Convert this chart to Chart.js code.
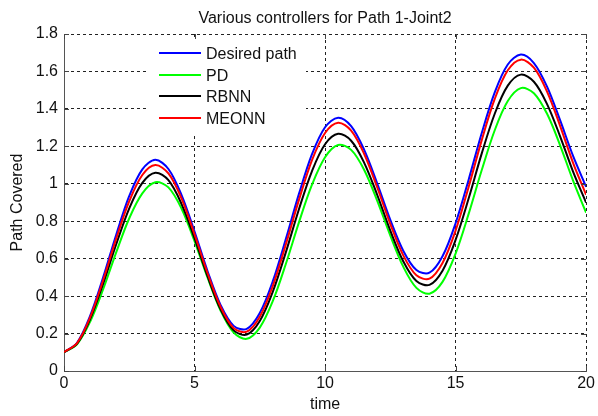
<!DOCTYPE html>
<html>
<head>
<meta charset="utf-8">
<script src="https://cdn.jsdelivr.net/npm/chart.js@4/dist/chart.umd.min.js"></script>
<style>
html,body{margin:0;padding:0;background:#fff;}
canvas{display:block;}
</style>
</head>
<body>
<canvas id="c" width="598" height="416"></canvas>
<script>
// ---- data ----
const time = [0,0.5,1,1.5,2,2.5,3,3.5,4,4.5,5,5.5,6,6.5,7,7.5,8,8.5,9,9.5,10,10.5,11,11.5,12,12.5,13,13.5,14,14.5,15,15.5,16,16.5,17,17.5,18,18.5,19,19.5,20];
const desiredPath = [0.100,0.151,0.294,0.500,0.728,0.935,1.077,1.128,1.079,0.941,0.745,0.533,0.352,0.241,0.225,0.310,0.480,0.706,0.946,1.158,1.302,1.353,1.308,1.181,1.001,0.807,0.641,0.539,0.525,0.613,0.789,1.022,1.270,1.488,1.637,1.690,1.645,1.520,1.341,1.149,0.984];
const pd = [0.100,0.143,0.263,0.437,0.634,0.816,0.949,1.008,0.981,0.868,0.694,0.498,0.322,0.205,0.172,0.232,0.374,0.573,0.794,0.995,1.142,1.207,1.181,1.074,0.909,0.723,0.556,0.444,0.413,0.476,0.627,0.839,1.072,1.286,1.442,1.511,1.484,1.375,1.207,1.017,0.846];
const rbnn = [0.100,0.146,0.277,0.466,0.677,0.869,1.005,1.059,1.019,0.893,0.709,0.506,0.329,0.217,0.194,0.267,0.424,0.635,0.864,1.068,1.211,1.267,1.230,1.112,0.940,0.750,0.585,0.481,0.460,0.536,0.700,0.921,1.161,1.374,1.524,1.583,1.545,1.427,1.255,1.065,0.899];
const meonn = [0.100,0.149,0.286,0.485,0.707,0.907,1.047,1.100,1.055,0.922,0.730,0.522,0.342,0.229,0.210,0.290,0.455,0.677,0.914,1.126,1.271,1.326,1.284,1.159,0.980,0.785,0.616,0.511,0.493,0.577,0.750,0.983,1.232,1.453,1.606,1.663,1.620,1.494,1.311,1.112,0.941];
const seriesNames = ['Desired path','PD','RBNN','MEONN'];
const xTicks = [0,5,10,15,20];
const xTickLabels = ['0','5','10','15','20'];
const yTicks = [0,0.2,0.4,0.6,0.8,1,1.2,1.4,1.6,1.8];
const yTickLabels = ['0','0.2','0.4','0.6','0.8','1','1.2','1.4','1.6','1.8'];
const chartTitle = 'Various controllers for Path 1-Joint2';
const xTitle = 'time';
const yTitle = 'Path Covered';

// ---- styles ----
const FONT = '"Liberation Sans", Arial, Helvetica, sans-serif';
const TEXT = '#111';
const seriesColors = ['#0000ff','#00ff00','#000000','#ff0000'];
const seriesValues = [desiredPath, pd, rbnn, meonn];

const datasets = seriesNames.map((name, i) => ({
  label: name,
  data: time.map((t, j) => ({x: t, y: seriesValues[i][j]})),
  borderColor: seriesColors[i],
  backgroundColor: seriesColors[i],
  borderWidth: 2,
  pointRadius: 0,
  pointHoverRadius: 0,
  fill: false,
  tension: 0.33,
  order: seriesNames.length - i
}));

const decor = {
  id: 'decor',
  afterDatasetsDraw(chart) {
    const {ctx, chartArea: ca, scales: {x, y}} = chart;
    ctx.save();
    // inward tick marks on all four sides
    ctx.strokeStyle = '#444';
    ctx.lineWidth = 1;
    ctx.beginPath();
    xTicks.forEach(v => {
      const px = Math.round(x.getPixelForValue(v)) + 0.5;
      ctx.moveTo(px, ca.bottom); ctx.lineTo(px, ca.bottom - 5);
      ctx.moveTo(px, ca.top); ctx.lineTo(px, ca.top + 5);
    });
    yTicks.forEach(v => {
      const py = Math.round(y.getPixelForValue(v)) + 0.5;
      ctx.moveTo(ca.left, py); ctx.lineTo(ca.left + 5, py);
      ctx.moveTo(ca.right, py); ctx.lineTo(ca.right - 5, py);
    });
    ctx.stroke();
    // legend
    ctx.fillStyle = '#fff';
    ctx.fillRect(147, 39, 159, 95);
    ctx.font = '16px ' + FONT;
    ctx.textBaseline = 'alphabetic';
    ctx.textAlign = 'left';
    seriesNames.forEach((name, i) => {
      const ly = Math.round(52.7 + i * 21.85);
      ctx.strokeStyle = seriesColors[i];
      ctx.lineWidth = 2;
      ctx.beginPath();
      ctx.moveTo(159, ly); ctx.lineTo(201, ly);
      ctx.stroke();
      ctx.fillStyle = TEXT;
      ctx.fillText(name, 206, ly + 6.3);
    });
    // title
    ctx.font = '16px ' + FONT;
    ctx.textAlign = 'center';
    ctx.fillStyle = TEXT;
    ctx.fillText(chartTitle, (ca.left + ca.right) / 2, 23);
    ctx.restore();
  }
};

new Chart(document.getElementById('c'), {
  type: 'line',
  data: {datasets},
  options: {
    responsive: false,
    animation: false,
    events: [],
    layout: {padding: {top: 34, right: 11, left: 0, bottom: 0}},
    plugins: {legend: {display: false}, title: {display: false}, tooltip: {enabled: false}},
    scales: {
      x: {
        type: 'linear',
        min: 0, max: 20,
        afterBuildTicks: s => { s.ticks = xTicks.map(v => ({value: v})); },
        afterFit: s => { s.height = 45; },
        ticks: {
          callback: (v, i) => xTickLabels[i],
          font: {family: FONT, size: 16},
          color: TEXT,
          padding: 3,
          maxRotation: 0,
          autoSkip: false
        },
        grid: {color: '#222', lineWidth: 1, drawTicks: false},
        border: {display: true, color: '#555', width: 1, dash: [3, 3]},
        title: {display: true, text: xTitle, font: {family: FONT, size: 16}, color: TEXT, padding: {top: 0, bottom: 2}}
      },
      y: {
        type: 'linear',
        min: 0, max: 1.8,
        afterBuildTicks: s => { s.ticks = yTicks.map(v => ({value: v})); },
        afterFit: s => { s.width = 64; },
        ticks: {
          callback: (v, i) => yTickLabels[i],
          font: {family: FONT, size: 16},
          color: TEXT,
          padding: 6,
          autoSkip: false
        },
        grid: {color: '#222', lineWidth: 1, drawTicks: false},
        border: {display: true, color: '#555', width: 1, dash: [3, 3]},
        title: {display: true, text: yTitle, font: {family: FONT, size: 16}, color: TEXT, padding: {top: 8, bottom: 0}}
      }
    }
  },
  plugins: [decor]
});
</script>
</body>
</html>
